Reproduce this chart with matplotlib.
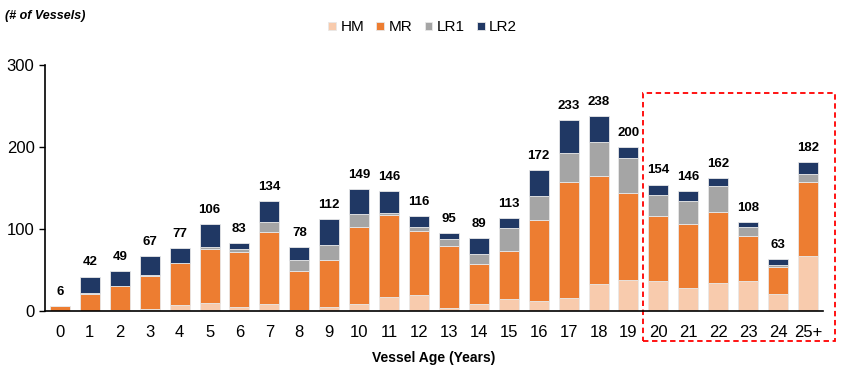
import matplotlib
matplotlib.use("Agg")
import matplotlib.pyplot as plt
from matplotlib.patches import Rectangle
import numpy as np

plt.rcParams['font.family'] = ['Liberation Sans', 'DejaVu Sans']

ages = ["0", "1", "2", "3", "4", "5", "6", "7", "8", "9", "10", "11", "12", "13",
        "14", "15", "16", "17", "18", "19", "20", "21", "22", "23", "24", "25+"]
hm  = [0, 0, 1, 3, 7, 10, 5, 8, 1, 5, 9, 17, 20, 4, 9, 15, 12, 16, 33, 38, 36, 28, 34, 37, 21, 67]
mr  = [6, 21, 29, 40, 51, 66, 67, 88, 48, 57, 93, 100, 78, 75, 48, 58, 99, 141, 132, 106, 80, 78, 87, 54, 33, 90]
lr1 = [0, 1, 0, 1, 0, 2, 3, 12, 13, 18, 16, 2, 4, 9, 13, 28, 29, 36, 41, 43, 26, 28, 32, 11, 2, 10]
lr2 = [0, 20, 19, 23, 19, 28, 8, 26, 16, 32, 31, 27, 14, 7, 19, 12, 32, 40, 32, 13, 12, 12, 9, 6, 7, 15]
totals = [6, 42, 49, 67, 77, 106, 83, 134, 78, 112, 149, 146, 116, 95, 89, 113, 172, 233, 238, 200,
          154, 146, 162, 108, 63, 182]

series = [("HM", hm, "#F8CBAD"), ("MR", mr, "#ED7D31"), ("LR1", lr1, "#A5A5A5"), ("LR2", lr2, "#203864")]

fig = plt.figure(figsize=(8.42, 3.65), dpi=100)
ax = fig.add_axes([0.0534, 0.148, 0.924, 0.674])

x = np.arange(len(ages))
bottom = np.zeros(len(ages))
for name, vals, col in series:
    v = np.array(vals, dtype=float)
    ax.bar(x, v, bottom=bottom, width=0.67, color=col, edgecolor="#E8E8E8", linewidth=0.6, label=name)
    bottom += v

for xi, t in zip(x, totals):
    ax.text(xi, t + 10, str(t), ha="center", va="bottom", fontsize=9.5, fontweight="bold")

ax.set_xlim(-0.5, 25.5)
ax.set_ylim(0, 300)
ax.set_yticks([0, 100, 200, 300])
ax.set_xticks(x)
ax.set_xticklabels(ages)
ax.tick_params(axis="y", labelsize=12, length=4, width=1, direction="out")
ax.tick_params(axis="x", labelsize=12, length=0, pad=10)
for s in ["top", "right"]:
    ax.spines[s].set_visible(False)
ax.spines["left"].set_linewidth(1.2)
ax.spines["bottom"].set_linewidth(1.2)

ax.set_xlabel("Vessel Age (Years)", fontsize=10, fontweight="bold", labelpad=8)

fig.text(0.006, 0.955, "(# of Vessels)", fontsize=9, fontstyle="italic", fontweight="bold", ha="left", va="center")

leg = fig.legend(loc="center", bbox_to_anchor=(0.502, 0.925), ncol=4, frameon=False, fontsize=11,
                 handlelength=0.5, handleheight=0.5, handletextpad=0.3, columnspacing=0.8)

rect = Rectangle((19.47, -36.6), 6.42, 302.5, transform=ax.transData, fill=False,
                 edgecolor="#FF0000", linestyle=(0, (3, 2)), linewidth=1.3, clip_on=False)
ax.add_patch(rect)

fig.savefig("out.png", dpi=100)
